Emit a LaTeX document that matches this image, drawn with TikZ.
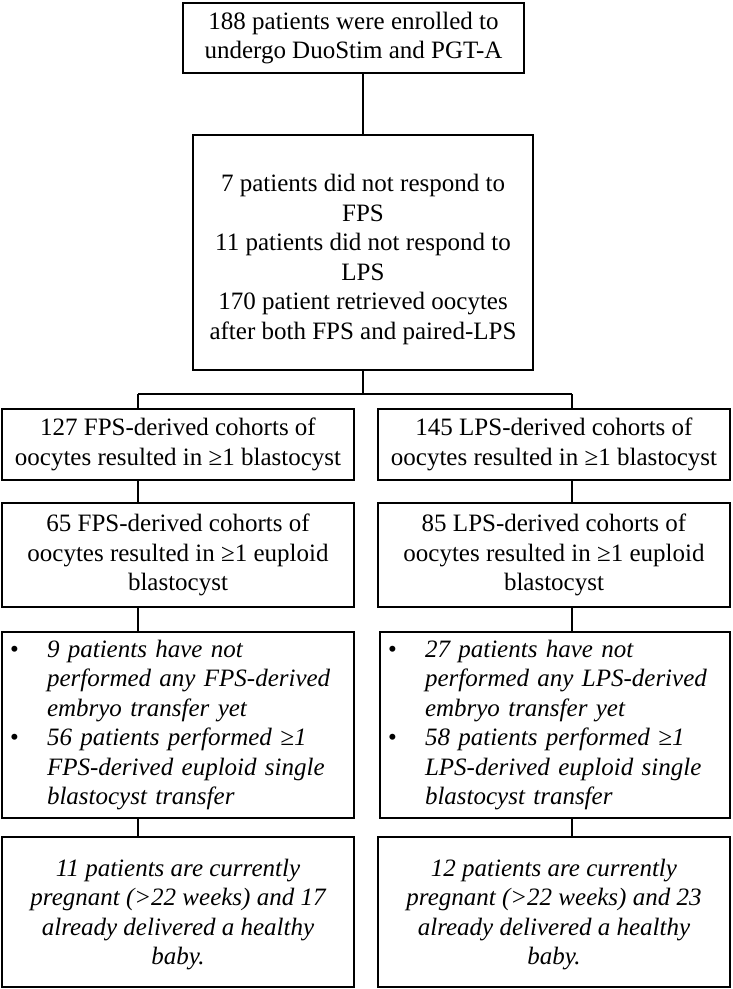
\documentclass[tikz,border=0pt]{standalone}
\usepackage{fontspec}
\setmainfont{Liberation Serif}
\newcommand{\boxfont}{\fontsize{25}{29.5}\selectfont}
\tikzset{
  box/.style={draw=black, line width=1.4pt, inner sep=0pt, align=center, font=\boxfont},
  itbox/.style={box, font=\boxfont\itshape},
  listbox/.style={draw=black, line width=1.4pt, inner xsep=8pt, inner ysep=0pt, align=left, font=\boxfont\itshape},
  link/.style={draw=black, line width=1.4pt}
}
\begin{document}
\begin{tikzpicture}[x=1pt,y=-1pt]
\useasboundingbox[fill=white] (0,0) rectangle (732,989);

\node[box, minimum width=341pt, minimum height=70pt] (top) at (353.5,38)
  {188 patients were enrolled to\\undergo DuoStim and PGT-A};

\node[box, minimum width=340pt, minimum height=235pt] (mid) at (363,252.5)
  {\rule{0pt}{31pt}7 patients did not respond to\\FPS\\11 patients did not respond to\\LPS\\170 patient retrieved oocytes\\after both FPS and paired-LPS};

% left column
\node[box, minimum width=352pt, minimum height=71pt] (l1) at (178,444.5)
  {127 FPS-derived cohorts of\\oocytes resulted in ≥1 blastocyst};
\node[box, minimum width=352pt, minimum height=104pt] (l2) at (178,555)
  {65 FPS-derived cohorts of\\oocytes resulted in ≥1 euploid\\blastocyst};
\node[listbox, text width=336pt, minimum height=186pt] (l3) at (178,725)
  {\begin{tabular}{@{}p{37pt}@{}l@{}}
   \upshape\textbullet & 9 patients have not\\
   & performed any FPS-derived\\
   & embryo transfer yet\\
   \upshape\textbullet & 56 patients performed ≥1\\
   & FPS-derived euploid single\\
   & blastocyst transfer
   \end{tabular}};
\node[itbox, minimum width=352pt, minimum height=150pt] (l4) at (178,912)
  {\rule{0pt}{22pt}11 patients are currently\\pregnant (>22 weeks) and 17\\already delivered a healthy\\baby.};

% right column
\node[box, minimum width=352pt, minimum height=71pt] (r1) at (554,444.5)
  {145 LPS-derived cohorts of\\oocytes resulted in ≥1 blastocyst};
\node[box, minimum width=352pt, minimum height=104pt] (r2) at (554,555)
  {85 LPS-derived cohorts of\\oocytes resulted in ≥1 euploid\\blastocyst};
\node[listbox, text width=334pt, minimum height=186pt] (r3) at (555,725)
  {\begin{tabular}{@{}p{37pt}@{}l@{}}
   \upshape\textbullet & 27 patients have not\\
   & performed any LPS-derived\\
   & embryo transfer yet\\
   \upshape\textbullet & 58 patients performed ≥1\\
   & LPS-derived euploid single\\
   & blastocyst transfer
   \end{tabular}};
\node[itbox, minimum width=352pt, minimum height=150pt] (r4) at (554,912)
  {\rule{0pt}{22pt}12 patients are currently\\pregnant (>22 weeks) and 23\\already delivered a healthy\\baby.};

% connectors
\coordinate (split) at (363,394);
\coordinate (jl) at (138,394);
\coordinate (jr) at (572,394);
\draw[link] (mid.north) -- (mid.north |- top.south);
\draw[link] (mid.south) -- (split);
\draw[link] (jl) -- (jr);
\draw[link] (jl) -- (jl |- l1.north);
\draw[link] (jr) -- (jr |- r1.north);
\draw[link] (jl |- l1.south) -- (jl |- l2.north);
\draw[link] (jl |- l2.south) -- (jl |- l3.north);
\draw[link] (jl |- l3.south) -- (jl |- l4.north);
\draw[link] (jr |- r1.south) -- (jr |- r2.north);
\draw[link] (jr |- r2.south) -- (jr |- r3.north);
\draw[link] (jr |- r3.south) -- (jr |- r4.north);
\end{tikzpicture}
\end{document}
